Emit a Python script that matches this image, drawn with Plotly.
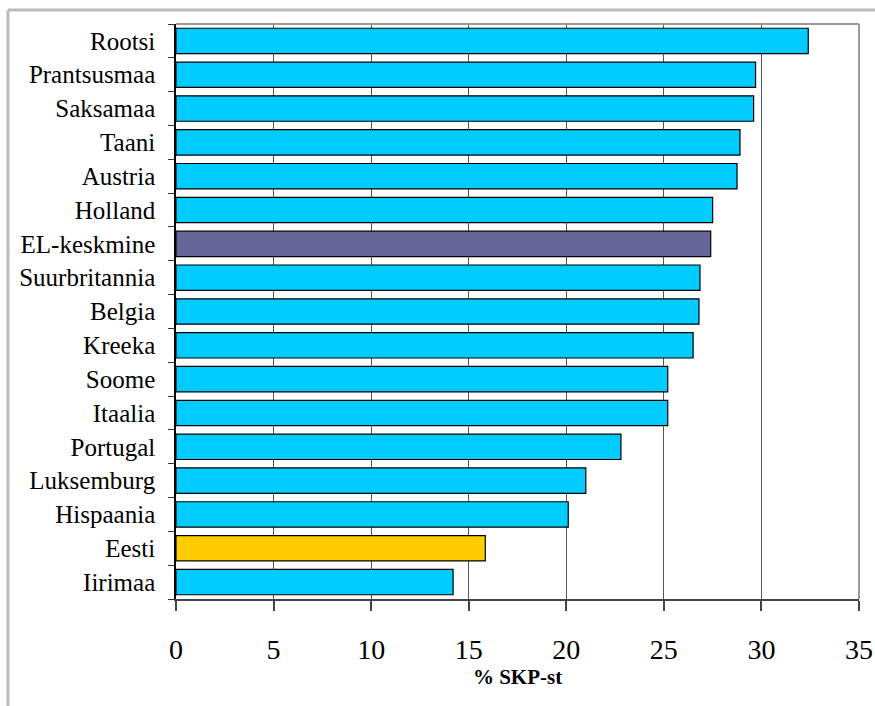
import plotly.graph_objects as go

# Maksukoormus riigiti, % SKP-st
countries = ["Rootsi", "Prantsusmaa", "Saksamaa", "Taani", "Austria", "Holland",
             "EL-keskmine", "Suurbritannia", "Belgia", "Kreeka", "Soome", "Itaalia",
             "Portugal", "Luksemburg", "Hispaania", "Eesti", "Iirimaa"]
values = [32.4, 29.7, 29.6, 28.9, 28.75, 27.5,
          27.4, 26.85, 26.8, 26.5, 25.2, 25.2,
          22.8, 21.0, 20.1, 15.85, 14.2]
x_ticks = [0, 5, 10, 15, 20, 25, 30, 35]

CYAN = "#00CCFF"
AVG = "#666699"
EST = "#FFCC00"
colors = [AVG if c == "EL-keskmine" else EST if c == "Eesti" else CYAN for c in countries]

# bottom-to-top order for the horizontal bar chart
cats = countries[::-1]
vals = values[::-1]
cols = colors[::-1]
n = len(cats)

fig = go.Figure()
fig.add_trace(go.Bar(
    x=vals, y=cats, orientation="h",
    marker=dict(color=cols, line=dict(color="black", width=1.2)),
    width=0.75, hoverinfo="x+y",
))

serif = "Liberation Serif, Times New Roman, serif"

fig.update_layout(
    width=875, height=706,
    margin=dict(l=176, r=16, t=24, b=107, autoexpand=False),
    paper_bgcolor="white", plot_bgcolor="white",
    showlegend=False,
    font=dict(family=serif, color="black"),
    xaxis=dict(
        range=[0, 35], tickvals=x_ticks, ticktext=[str(v) for v in x_ticks],
        showgrid=True, gridcolor="#555555", gridwidth=1,
        zeroline=False, automargin=False,
        showline=True, linecolor="#444444", linewidth=2,
        ticks="outside", ticklen=10, tickcolor="#444444", tickwidth=1.5,
        ticklabelstandoff=14,
        tickfont=dict(family=serif, size=28, color="black"),
        title=dict(text="<b>% SKP-st</b>", font=dict(family=serif, size=21, color="black"),
                   standoff=2),
        fixedrange=True,
    ),
    yaxis=dict(
        type="category", categoryorder="array", categoryarray=cats,
        range=[-0.5, n - 0.5],
        showgrid=False, zeroline=False, automargin=False,
        showline=True, linecolor="black", linewidth=1.5,
        ticks="", ticklabelstandoff=14,
        tickfont=dict(family=serif, size=25, color="black"),
        fixedrange=True,
    ),
    # boundary tick marks between categories
    yaxis2=dict(
        overlaying="y", side="left", range=[-0.5, n - 0.5],
        tickvals=[i - 0.5 for i in range(n + 1)], automargin=False,
        showticklabels=False, ticks="outside", ticklen=7, tickcolor="#333333",
        showgrid=False, zeroline=False, showline=False, fixedrange=True,
    ),
)

# dummy trace to activate the boundary-tick axis
fig.add_trace(go.Scatter(x=[None], y=[None], yaxis="y2", showlegend=False, hoverinfo="skip"))

# plot-area frame (top and right) and outer chart frame
fig.add_shape(type="line", xref="paper", yref="paper", x0=0, x1=1, y0=1, y1=1,
              line=dict(color="#999999", width=2))
fig.add_shape(type="line", xref="paper", yref="paper", x0=1, x1=1, y0=0, y1=1,
              line=dict(color="#999999", width=2))
fig.add_shape(type="line", xref="paper", yref="paper", x0=-0.246, x1=1.03, y0=1.0243, y1=1.0243,
              line=dict(color="#BBBBBB", width=3))
fig.add_shape(type="line", xref="paper", yref="paper", x0=-0.246, x1=-0.246, y0=-0.19, y1=1.0243,
              line=dict(color="#BBBBBB", width=3))

fig.write_html("out.html")
